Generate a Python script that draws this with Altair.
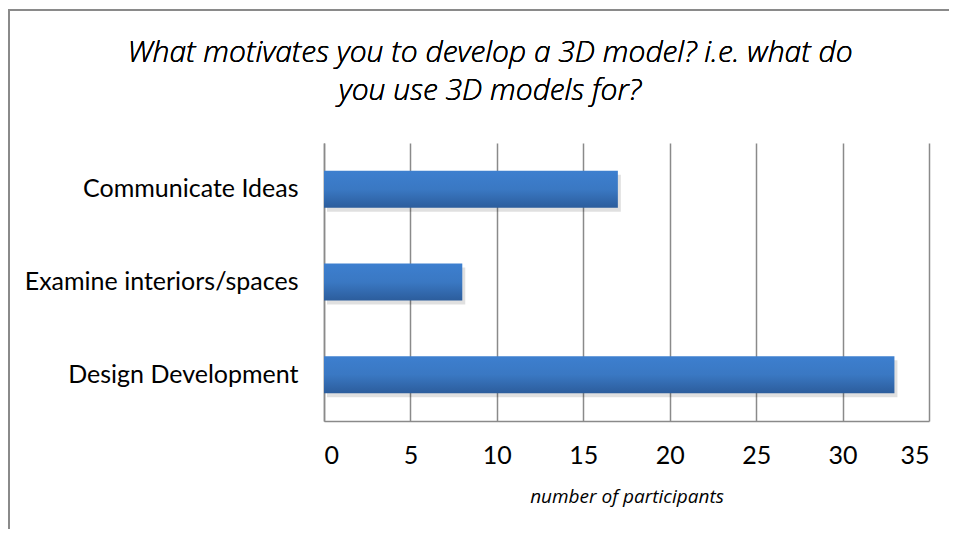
import altair as alt
import pandas as pd

categories = ["Communicate Ideas", "Examine interiors/spaces", "Design Development"]
participants = [17, 8, 33]
x_ticks = [0, 5, 10, 15, 20, 25, 30, 35]
title_text = "What motivates you to develop a 3D model? i.e. what do\nyou use 3D models for?"
x_title = "number of participants"

df = pd.DataFrame({"category": categories, "participants": participants})

FONT = "Lato"
TFONT = "Open Sans"
GRID = "#8a8a8a"

y_enc = alt.Y("category:N", sort=categories,
              scale=alt.Scale(paddingInner=0.6, paddingOuter=0.3),
              axis=alt.Axis(title=None, ticks=False, labelPadding=26,
                            labelFontSize=25, labelFont=FONT, labelColor="#000000",
                            domainColor=GRID, domainWidth=1.5, labelLimit=400))
x_enc = alt.X("participants:Q",
              scale=alt.Scale(domain=[0, 35], nice=False),
              axis=alt.Axis(values=x_ticks, title=x_title, ticks=False,
                            labelPadding=22, labelFontSize=25, labelFont=FONT,
                            labelColor="#000000", grid=True, gridColor=GRID,
                            gridWidth=1.5, domainColor=GRID, domainWidth=1.5,
                            titleFont=TFONT, titleFontSize=19, titleFontStyle="italic",
                            titleFontWeight=400, titlePadding=19,
                            titleColor="#000000"))

border = alt.Chart(df).mark_rect(fill=None, stroke=GRID, strokeWidth=2).encode(
    x=alt.value(-315), x2=alt.value(700), y=alt.value(-133), y2=alt.value(600)
)

title = alt.Chart(df).mark_text(
    text=title_text, lineBreak="\n", font=TFONT, fontSize=30, fontStyle="italic",
    fontWeight=300, align="center", baseline="alphabetic", lineHeight=38,
    color="#000000"
).encode(x=alt.value(166), y=alt.value(-81))

shadow = alt.Chart(df).mark_bar(color="#000000", opacity=0.12, xOffset=3, yOffset=4).encode(
    x=x_enc, y=y_enc
)

bars = alt.Chart(df).mark_bar(
    color=alt.Gradient(
        gradient="linear",
        stops=[alt.GradientStop(color="#3d7fcf", offset=0),
               alt.GradientStop(color="#3a78c3", offset=0.5),
               alt.GradientStop(color="#2c5d9c", offset=1)],
        x1=0, x2=0, y1=0, y2=1),
).encode(x=x_enc, y=y_enc)

chart = alt.layer(border, title, shadow, bars).properties(
    width=605, height=278,
    autosize=alt.AutoSizeParams(type="none"),
    padding={"left": 316, "top": 135, "right": 20, "bottom": 108},
    background="#ffffff",
).configure_view(stroke=None)

chart.save("out.html", embed_options={"renderer": "svg", "actions": False})
